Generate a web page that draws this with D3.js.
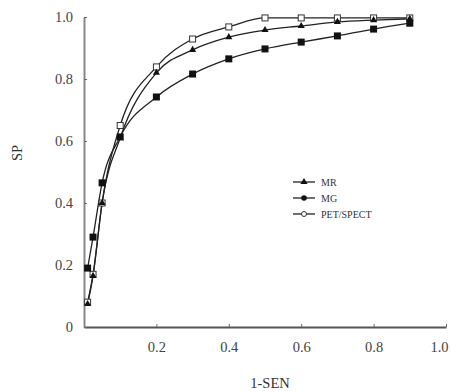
<!DOCTYPE html>
<html><head><meta charset="utf-8">
<script src="https://cdn.jsdelivr.net/npm/d3@7"></script>
<style>body{margin:0;background:#fff}</style>
</head><body>
<svg id="c" width="451" height="392"></svg>
<script>
const xVals = [0.01, 0.025, 0.05, 0.1, 0.2, 0.3, 0.4, 0.5, 0.6, 0.7, 0.8, 0.9];
const mrVals = [0.074, 0.165, 0.40, 0.61, 0.82, 0.894, 0.935, 0.958, 0.971, 0.984, 0.99, 0.994];
const mgVals = [0.19, 0.29, 0.465, 0.613, 0.742, 0.816, 0.865, 0.897, 0.919, 0.939, 0.961, 0.98];
const petVals = [0.08, 0.17, 0.40, 0.65, 0.839, 0.929, 0.968, 0.997, 0.997, 0.997, 0.997, 0.997];
const xTicks = [0.2, 0.4, 0.6, 0.8, 1.0];
const yTicks = [0, 0.2, 0.4, 0.6, 0.8, 1.0];
const seriesNames = ["MR", "MG", "PET/SPECT"];

const svg = d3.select("#c");
const x = d3.scaleLinear().domain([0, 1]).range([84, 446]);
const y = d3.scaleLinear().domain([0, 1]).range([327, 17]);
const font = "'Liberation Serif','Times New Roman',serif";
const fmt = d => d === 0 ? "0" : d.toFixed(1);

// axes
const xa = svg.append("g").attr("transform", `translate(0,${y(0)})`)
  .call(d3.axisBottom(x).tickValues(xTicks).tickFormat(fmt).tickSizeInner(-3).tickSizeOuter(0).tickPadding(15));
const ya = svg.append("g").attr("transform", `translate(${x(0)},0)`)
  .call(d3.axisLeft(y).tickValues(yTicks).tickFormat(fmt).tickSizeInner(-3).tickSizeOuter(0).tickPadding(11));
[xa, ya].forEach(a => {
  a.select(".domain").attr("stroke", "#555").attr("stroke-width", 1.8);
  a.selectAll(".tick line").attr("stroke", "#666");
  a.selectAll("text").attr("font-family", font).attr("font-size", 14.5).attr("fill", "#444");
});
ya.select(".domain").attr("stroke", "#888").attr("stroke-width", 2);
xa.selectAll(".tick text").filter(d => d === 1).attr("dx", -7);

svg.append("text").attr("x", 270).attr("y", 388).attr("text-anchor", "middle")
  .attr("font-family", font).attr("font-size", 14.5).attr("fill", "#333").text("1-SEN");
svg.append("text").attr("transform", "translate(22,153) rotate(-90)").attr("text-anchor", "middle")
  .attr("font-family", font).attr("font-size", 14.5).attr("fill", "#333").text("SP");

const line = d3.line().x(d => x(d[0])).y(d => y(d[1])).curve(d3.curveMonotoneX);
const series = [
  { name: seriesNames[0], vals: mrVals, shape: "tri" },
  { name: seriesNames[1], vals: mgVals, shape: "sq" },
  { name: seriesNames[2], vals: petVals, shape: "open" }
];

function marker(g, shape, cx, cy) {
  if (shape === "tri") {
    g.append("path").attr("d", d3.symbol(d3.symbolTriangle, 22)())
      .attr("transform", `translate(${cx},${cy})`).attr("fill", "#111");
  } else if (shape === "sq") {
    g.append("rect").attr("x", cx - 3.5).attr("y", cy - 3.5).attr("width", 7).attr("height", 7).attr("fill", "#111");
  } else {
    g.append("rect").attr("x", cx - 3).attr("y", cy - 3).attr("width", 6).attr("height", 6)
      .attr("fill", "#fff").attr("stroke", "#333").attr("stroke-width", 1);
  }
}

series.forEach(s => {
  const pts = xVals.map((v, i) => [v, s.vals[i]]);
  svg.append("path").datum(pts).attr("d", line).attr("fill", "none").attr("stroke", "#222").attr("stroke-width", 1.3);
});
series.slice().reverse().forEach(s => {
  const g = svg.append("g");
  xVals.forEach((v, i) => marker(g, s.shape, x(v), y(s.vals[i])));
});

// legend
const ly = [182, 198, 214];
series.forEach((s, i) => {
  svg.append("line").attr("x1", 293).attr("x2", 315).attr("y1", ly[i]).attr("y2", ly[i]).attr("stroke", "#222").attr("stroke-width", 1.3);
  const g = svg.append("g");
  if (s.shape === "tri") marker(g, "tri", 304, ly[i]);
  else if (s.shape === "sq") g.append("circle").attr("cx", 304).attr("cy", ly[i]).attr("r", 2.8).attr("fill", "#111");
  else g.append("circle").attr("cx", 304).attr("cy", ly[i]).attr("r", 2.5).attr("fill", "#fff").attr("stroke", "#333");
  svg.append("text").attr("x", 321).attr("y", ly[i] + 3.5).attr("font-family", font).attr("font-size", 10)
    .attr("fill", "#333").text(s.name);
});
</script>
</body></html>
